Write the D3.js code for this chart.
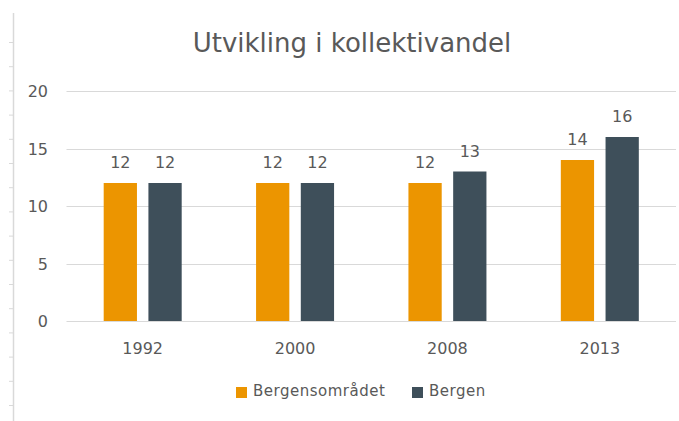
<!DOCTYPE html>
<html>
<head>
<meta charset="utf-8">
<script src="https://cdn.jsdelivr.net/npm/d3@7"></script>
<style>
  body { margin: 0; background: #fff; }
  text { font-family: "DejaVu Sans", Verdana, sans-serif; fill: #595959; }
</style>
</head>
<body>
<div id="chart"></div>
<script>
const title = 'Utvikling i kollektivandel';
const years = ['1992', '2000', '2008', '2013'];
const seriesNames = ['Bergensområdet', 'Bergen'];
const bergensomradet = [12, 12, 12, 14];
const bergen = [12, 12, 13, 16];
const yTicks = [0, 5, 10, 15, 20];
const colors = ['#ec9500', '#3e4f5a'];

const width = 679, height = 421;
const margin = { top: 91, right: 3, bottom: 100, left: 66.5 };

const svg = d3.select('#chart').append('svg')
    .attr('width', width)
    .attr('height', height);

// ruler-like decoration on the left edge
const ruler = d3.scaleLinear().domain([0, 16]).range([42, 42 + 16 * 24.2]);
svg.append('line')
    .attr('x1', 13.5).attr('x2', 13.5)
    .attr('y1', 13).attr('y2', height)
    .attr('stroke', '#d9d9d9').attr('stroke-width', 1.5);
svg.append('g').selectAll('line')
    .data(d3.range(0, 16))
    .join('line')
    .attr('x1', 9).attr('x2', 13.5)
    .attr('y1', d => ruler(d) + 0.5).attr('y2', d => ruler(d) + 0.5)
    .attr('stroke', '#d9d9d9');

const x = d3.scaleBand()
    .domain(years)
    .range([margin.left, width - margin.right]);

const y = d3.scaleLinear()
    .domain([0, 20])
    .range([height - margin.bottom, margin.top]);

const inner = d3.scaleBand()
    .domain(seriesNames)
    .range([x.bandwidth() / 2 - 39, x.bandwidth() / 2 + 39])
    .paddingInner(10 / 39);

// gridlines
svg.append('g').selectAll('line')
    .data(yTicks)
    .join('line')
    .attr('x1', margin.left).attr('x2', width - margin.right)
    .attr('y1', d => Math.round(y(d)) + 0.5).attr('y2', d => Math.round(y(d)) + 0.5)
    .attr('stroke', '#d9d9d9');

// y axis labels
svg.append('g').selectAll('text')
    .data(yTicks)
    .join('text')
    .attr('x', 48)
    .attr('y', d => y(d) + 6)
    .attr('text-anchor', 'end')
    .attr('font-size', 16)
    .text(d => d);

// x axis labels
svg.append('g').selectAll('text')
    .data(years)
    .join('text')
    .attr('x', d => x(d) + x.bandwidth() / 2)
    .attr('y', 354)
    .attr('text-anchor', 'middle')
    .attr('font-size', 16)
    .text(d => d);

const series = [bergensomradet, bergen];
const groups = svg.append('g').selectAll('g')
    .data(series.map((vals, i) => ({ name: seriesNames[i], color: colors[i], vals })))
    .join('g');

groups.selectAll('rect')
    .data(s => s.vals.map((v, j) => ({ name: s.name, color: s.color, year: years[j], v })))
    .join('rect')
    .attr('x', d => x(d.year) + inner(d.name))
    .attr('width', inner.bandwidth())
    .attr('y', d => y(d.v))
    .attr('height', d => y(0) - y(d.v))
    .attr('fill', d => d.color);

groups.selectAll('text')
    .data(s => s.vals.map((v, j) => ({ name: s.name, year: years[j], v })))
    .join('text')
    .attr('x', d => x(d.year) + inner(d.name) + inner.bandwidth() / 2)
    .attr('y', d => y(d.v) - 15)
    .attr('text-anchor', 'middle')
    .attr('font-size', 16)
    .text(d => d.v);

// title
svg.append('text')
    .attr('x', 352)
    .attr('y', 52)
    .attr('text-anchor', 'middle')
    .attr('font-size', 26)
    .text(title);

// legend
const legendX = [236, 412];
const legend = svg.append('g').selectAll('g')
    .data(seriesNames)
    .join('g')
    .attr('transform', (d, i) => `translate(${legendX[i]},386)`);
legend.append('rect')
    .attr('width', 11).attr('height', 11)
    .attr('y', 1)
    .attr('fill', (d, i) => colors[i]);
legend.append('text')
    .attr('x', 17)
    .attr('y', 10)
    .attr('font-size', 15)
    .attr('letter-spacing', 0.5)
    .text(d => d);
</script>
</body>
</html>
